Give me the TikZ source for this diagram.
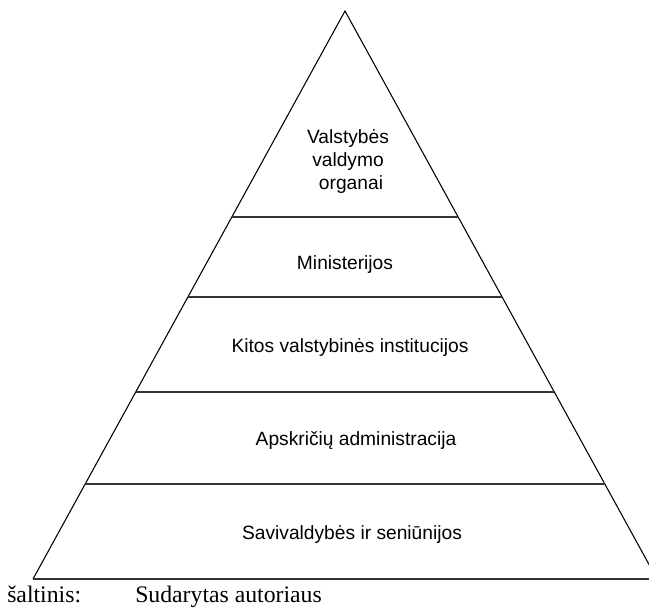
\documentclass[tikz,border=0pt]{standalone}
\usepackage{fontspec}
\setmainfont{Liberation Serif}
\newfontfamily\levelfont{Liberation Sans}
\usetikzlibrary{calc}
\begin{document}
\begin{tikzpicture}[x=0.75pt,y=-0.75pt,
  edge/.style={line width=0.8pt,black},
  divider/.style={line width=1pt,black!80},
  level/.style={font=\levelfont\fontsize{14.4}{17.25}\selectfont,align=center,inner sep=0pt},
  source/.style={font=\fontsize{17.8}{21}\selectfont,inner sep=0pt,anchor=base west}]
  \useasboundingbox (0,0) rectangle (649,607);
  \clip (0,0) rectangle (649,607);
  % pyramid corners
  \coordinate (apex) at (345,11);
  \coordinate (bl) at (33,579);
  \coordinate (br) at (657,579);
  \draw[edge] (bl) -- (apex) -- (br);
  \draw[divider] (bl) -- (br);
  % level dividers
  \foreach \t [count=\i] in {0.3627,0.5035,0.6708,0.8327} {
    \coordinate (l\i) at ($(apex)!\t!(bl)$);
    \coordinate (r\i) at ($(apex)!\t!(br)$);
    \draw[divider] (l\i) -- (r\i);
  }
  % level labels
  \node[level] (top) at (348,162) {Valstybės\\valdymo\\\hspace*{4.5pt}organai};
  \node[level] (min) at (345,265) {Ministerijos};
  \node[level] (kit) at (350,348) {Kitos valstybinės institucijos};
  \node[level] (aps) at (356,441) {Apskričių administracija};
  \node[level] (sav) at (352,535) {Savivaldybės ir seniūnijos};
  % source line
  \node[source] (src) at (7,602) {šaltinis:};
  \node[source] (auth) at (135,602) {Sudarytas autoriaus};
\end{tikzpicture}
\end{document}
